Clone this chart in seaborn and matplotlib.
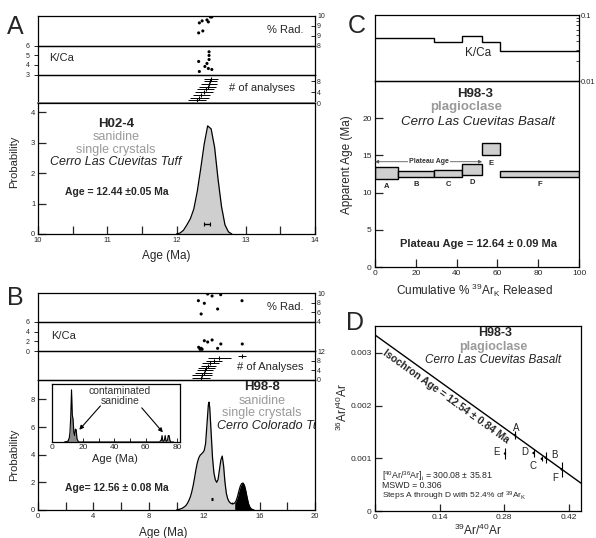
import numpy as np
import pandas as pd
import matplotlib
matplotlib.use("Agg")
import matplotlib.pyplot as plt
import matplotlib.ticker as mticker
import seaborn as sns

# ---------------- data ----------------
# Panel A  (H02-4)
a_curve_age = [12.00, 12.05, 12.10, 12.15, 12.20, 12.25, 12.30, 12.35, 12.40, 12.45,
               12.50, 12.55, 12.60, 12.65, 12.70, 12.75, 12.80]
a_curve_prob = [0.0, 0.03, 0.12, 0.3, 0.5, 0.82, 1.4, 2.15, 2.95, 3.55,
                3.45, 2.85, 1.8, 0.9, 0.3, 0.07, 0.0]
a_age, a_age_err = 12.44, 0.05
a_rad_age = [12.33, 12.37, 12.44, 12.46, 12.49, 12.51, 12.32, 12.38]
a_rad_val = [96.5, 97.5, 98.0, 97.0, 99.5, 99.5, 91.4, 92.4]
a_kca_age = [12.47, 12.47, 12.47, 12.32, 12.44, 12.41, 12.46, 12.51, 12.33]
a_kca_val = [5.35, 4.97, 4.55, 4.35, 4.14, 3.83, 3.62, 3.52, 3.31]
a_n_age = [12.29, 12.33, 12.36, 12.40, 12.42, 12.45, 12.47, 12.49, 12.50]
a_n_err = [0.13, 0.14, 0.12, 0.13, 0.12, 0.12, 0.11, 0.10, 0.10]

# Panel B  (H98-8)
b_curve_age = [10.0, 10.1, 10.2, 10.3, 10.4, 10.5, 10.6, 10.7, 10.8, 10.9,
               11.0, 11.1, 11.2, 11.3, 11.4, 11.5, 11.6, 11.7, 11.8, 11.9,
               12.0, 12.1, 12.2, 12.3, 12.35, 12.4, 12.5, 12.6, 12.7, 12.8, 12.9,
               13.0, 13.1, 13.2, 13.3, 13.4, 13.5, 13.6, 13.7, 13.8, 13.9,
               14.0, 14.1, 14.2, 14.3, 14.4, 14.5, 14.6, 14.7, 14.8, 14.9,
               15.0, 15.1, 15.2, 15.3, 15.4, 15.5, 15.6]
b_curve_prob = [0, 0.02, 0.05, 0.08, 0.12, 0.18, 0.25, 0.35, 0.5, 0.7,
                0.95, 1.3, 1.75, 2.3, 2.9, 3.4, 3.75, 3.95, 4.05, 4.15,
                4.3, 4.8, 6.2, 7.6, 7.8, 7.4, 5.6, 3.8, 2.7, 2.2, 2.0,
                2.2, 2.9, 3.6, 3.9, 3.2, 2.0, 1.2, 0.8, 0.6, 0.5,
                0.45, 0.45, 0.5, 0.65, 0.95, 1.35, 1.7, 1.9, 1.95, 1.8,
                1.4, 0.9, 0.45, 0.2, 0.08, 0.03, 0.0]
b_excluded_from = 14.2
b_age, b_age_err = 12.56, 0.08
b_rad_age = [11.58, 12.01, 12.25, 12.57, 13.19, 14.73, 11.78, 12.97]
b_rad_val = [84.1, 78.7, 97.9, 93.8, 96.5, 84.1, 56.6, 66.9]
b_kca_age = [12.01, 12.25, 12.57, 11.60, 11.78, 11.70, 11.85, 12.97, 13.2, 14.75]
b_kca_val = [2.13, 1.86, 2.28, 0.77, 0.55, 0.35, 0.35, 0.55, 1.45, 1.45]
b_n_age = [11.8, 11.85, 11.95, 12.05, 12.15, 12.3, 12.45, 12.7, 13.1, 14.75]
b_n_err = [0.65, 0.7, 0.6, 0.6, 0.6, 0.55, 0.6, 0.6, 0.8, 0.3]
# inset (full age range)
inset_age = [8, 10, 11, 11.5, 12, 12.5, 13, 13.5, 14, 14.5, 15, 15.5, 16, 17,
             69, 69.5, 70, 70.5, 71, 71.5, 72, 72.5, 73, 73.5, 74, 74.5, 75, 75.5, 76, 78]
inset_prob = [0, 0.1, 0.5, 1.5, 4.0, 8.1, 4.2, 3.5, 1.5, 1.0, 2.0, 1.9, 0.5, 0,
              0, 0.2, 0.3, 1.0, 0.2, 0.1, 0.3, 1.0, 0.2, 0.1, 0.3, 1.0, 1.0, 0.3, 0, 0]

# Panel C  (H98-3 step heating)
c_steps = ['A', 'B', 'C', 'D', 'E', 'F']
c_cum_lo = [0, 11.3, 28.9, 42.8, 52.5, 61.4]
c_cum_hi = [11.3, 28.9, 42.8, 52.5, 61.4, 100]
c_age = [12.6, 12.52, 12.61, 13.11, 15.8, 12.5]
c_err = [0.8, 0.45, 0.45, 0.72, 0.8, 0.34]
c_kca = [0.0444, 0.0444, 0.0394, 0.048, 0.0394, 0.0285]
c_plateau_steps = 4   # A through D
c_plateau_y = 14.15

# Panel D  (isochron)
d_steps = ['A', 'B', 'C', 'D', 'E', 'F']
d_x = [0.304, 0.3705, 0.362, 0.344, 0.282, 0.405]
d_y = [0.00144, 0.00101, 0.00099, 0.00110, 0.00109, 0.00079]
d_yerr = [0.00007, 0.0001, 0.00005, 0.00007, 0.0001, 0.00014]
d_intercept = 0.00334
d_slope = -0.00629

# ---------------- style ----------------
sns.set_style("white")
plt.rcParams['font.family'] = ['Liberation Sans', 'DejaVu Sans']
plt.rcParams['mathtext.fontset'] = 'custom'
plt.rcParams['mathtext.rm'] = 'Liberation Sans'
plt.rcParams['mathtext.it'] = 'Liberation Sans:italic'
plt.rcParams['mathtext.bf'] = 'Liberation Sans:bold'
plt.rcParams['axes.linewidth'] = 0.9
plt.rcParams['axes.edgecolor'] = 'black'

W, H = 596, 538
fig = plt.figure(figsize=(W / 100, H / 100), dpi=100)
GRAY = '#9a9a9a'
FILL = '#cfcfcf'


def add_ax(x0, y0, x1, y1):
    ax = fig.add_axes([x0 / W, 1 - y1 / H, (x1 - x0) / W, (y1 - y0) / H])
    ax.set_facecolor('none')
    for s in ax.spines.values():
        s.set_color('black')
        s.set_linewidth(0.9)
    return ax


def ftext(x, y, s, **kw):
    kw.setdefault('ha', 'center')
    kw.setdefault('va', 'center')
    return fig.text(x / W, 1 - y / H, s, **kw)


def strip_base(ax, xlim, ylim):
    ax.set_xlim(xlim)
    ax.set_ylim(ylim)
    ax.set_xticks([])
    ax.tick_params(axis='y', which='both', left=False, right=False,
                   labelleft=False, labelright=False)


def right_ticks(ax, vals, labels):
    ax.set_yticks(vals)
    ax.set_yticklabels(labels)
    ax.tick_params(axis='y', which='major', right=True, labelright=True, left=False,
                   labelleft=False, direction='in', length=3, width=0.7,
                   labelsize=5, pad=1.5)


def left_ticks(ax, vals, labels):
    ax.set_yticks(vals)
    ax.set_yticklabels(labels)
    ax.tick_params(axis='y', which='major', left=True, labelleft=True, right=False,
                   labelright=False, direction='out', length=3, width=0.7,
                   labelsize=5, pad=3)


def dots(ax, x, y):
    sns.scatterplot(x=x, y=y, ax=ax, color='black', s=5, edgecolor='none', legend=False)


def nbars(ax, ages, errs):
    idx = np.arange(1, len(ages) + 1)
    ax.errorbar(ages, idx, xerr=errs, fmt='none', ecolor='black', elinewidth=0.7, capsize=0)
    ax.plot(ages, idx, ls='none', marker='|', ms=3, mew=0.8, color='black')


# ================= Panel A =================
AX0, AX1 = 38, 315
axAr = add_ax(AX0, 16, AX1, 45.5)
strip_base(axAr, (10, 14), (85, 100))
right_ticks(axAr, [100, 95, 90, 85], ['10', '9', '9', '8'])
dots(axAr, a_rad_age, a_rad_val)

axAk = add_ax(AX0, 45.5, AX1, 74.5)
strip_base(axAk, (10, 14), (3, 6))
left_ticks(axAk, [3, 4, 5, 6], ['3', '4', '5', '6'])
dots(axAk, a_kca_age, a_kca_val)

axAn = add_ax(AX0, 74.5, AX1, 103)
strip_base(axAn, (10, 14), (0, 10.5))
right_ticks(axAn, [0, 4, 8], ['0', '4', '8'])
nbars(axAn, a_n_age, a_n_err)
axAn.spines['bottom'].set_color('#888888')
axAn.spines['bottom'].set_linewidth(1.4)

axA = add_ax(AX0, 103, AX1, 234)
axA.fill_between(a_curve_age, a_curve_prob, color=FILL, lw=0)
sns.lineplot(x=a_curve_age, y=a_curve_prob, ax=axA, color='black', lw=0.9, sort=False)
axA.errorbar([a_age], [0.33], xerr=[a_age_err], fmt='none', ecolor='black',
             elinewidth=1.0, capsize=1.5, capthick=0.8)
axA.set_xlim(10, 14)
axA.set_ylim(0, 4.3)
axA.set_xticks([10, 11, 12, 13, 14])
axA.set_xticks(np.arange(10, 14.01, 0.5), minor=True)
axA.set_yticks([0, 1, 2, 3, 4])
axA.tick_params(which='both', direction='in', length=6, width=0.9, labelsize=5.5, pad=2,
                bottom=True, left=True)
axA.set_xlabel('')
axA.set_ylabel('')

ftext(15, 27, 'A', size=18)
ftext(285, 30, '% Rad.', size=8)
ftext(62, 58, 'K/Ca', size=8)
ftext(262, 88, '# of analyses', size=8)
ftext(14, 162, 'Probability', size=8, rotation=90)
ftext(166, 256, 'Age (Ma)', size=8.5)
ftext(116, 124, 'H02-4', size=9.5, weight='bold')
ftext(116, 137, 'sanidine', size=9, color=GRAY)
ftext(116, 150, 'single crystals', size=9, color=GRAY)
ftext(116, 162, 'Cerro Las Cuevitas Tuff', size=9, style='italic', color='#222222')
ftext(65, 192, 'Age = 12.44 \u00b10.05 Ma', size=7.5, weight='bold', ha='left')

# ================= Panel B =================
axBr = add_ax(AX0, 293, AX1, 322)
strip_base(axBr, (0, 20), (40, 100))
right_ticks(axBr, [100, 80, 60, 40], ['10', '8', '6', '4'])
dots(axBr, b_rad_age, b_rad_val)

axBk = add_ax(AX0, 322, AX1, 351)
strip_base(axBk, (0, 20), (0, 6))
left_ticks(axBk, [0, 2, 4, 6], ['0', '2', '4', '6'])
dots(axBk, b_kca_age, b_kca_val)

axBn = add_ax(AX0, 351, AX1, 380)
strip_base(axBn, (0, 20), (0, 12))
right_ticks(axBn, [0, 4, 8, 12], ['0', '4', '8', '12'])
nbars(axBn, b_n_age, b_n_err)

axB = add_ax(AX0, 380, AX1, 510)
bx = np.array(b_curve_age)
by = np.array(b_curve_prob)
axB.fill_between(bx, by, where=bx <= b_excluded_from + 1e-9, color=FILL, lw=0)
axB.fill_between(bx, by, where=bx >= b_excluded_from - 1e-9, color='black', lw=0)
sns.lineplot(x=b_curve_age, y=b_curve_prob, ax=axB, color='black', lw=0.9, sort=False)
axB.errorbar([b_age], [0.8], xerr=[b_age_err], fmt='none', ecolor='black',
             elinewidth=2.2, capsize=0)
axB.set_xlim(0, 20)
axB.set_ylim(0, 9.4)
axB.set_xticks([0, 4, 8, 12, 16, 20])
axB.set_xticks(np.arange(0, 20.1, 2), minor=True)
axB.set_yticks([0, 2, 4, 6, 8])
axB.tick_params(which='both', direction='in', length=6, width=0.9, labelsize=5.5, pad=2,
                bottom=True, left=True)
axB.set_xlabel('')
axB.set_ylabel('')
axB.text(0.845, 0.646, 'Cerro Colorado Tuff', transform=axB.transAxes, ha='center',
         va='center', size=9, style='italic', color='#222222', clip_on=True)
axB.text(0.809, 0.746, 'single crystals', transform=axB.transAxes, ha='center',
         va='center', size=9, color=GRAY, clip_on=True)

# inset
axI = add_ax(52, 384, 180, 442)
axI.fill_between(inset_age, inset_prob, color='#8a8a8a', lw=0)
sns.lineplot(x=inset_age, y=inset_prob, ax=axI, color='black', lw=0.8, sort=False)
axI.set_xlim(0, 82)
axI.set_ylim(0, 9)
axI.set_xticks([0, 20, 40, 60, 80])
axI.set_xticks(np.arange(0, 81, 10), minor=True)
axI.set_yticks([])
axI.tick_params(axis='x', which='both', direction='in', length=3, width=0.7,
                labelsize=6, pad=1.5, bottom=True)
axI.set_xlabel('')
axI.set_ylabel('')
axI.annotate('', xy=(17.5, 1.9), xytext=(31, 5.6),
             arrowprops=dict(arrowstyle='-|>', lw=0.8, color='black', mutation_scale=6,
                             shrinkA=0, shrinkB=0))
axI.annotate('', xy=(71, 1.5), xytext=(57.5, 5.3),
             arrowprops=dict(arrowstyle='-|>', lw=0.8, color='black', mutation_scale=6,
                             shrinkA=0, shrinkB=0))
ftext(120, 391, 'contaminated', size=7.5, color='#333333')
ftext(120, 401, 'sanidine', size=7.5, color='#333333')
ftext(115, 459, 'Age (Ma)', size=8)

ftext(15, 298, 'B', size=18)
ftext(285, 307, '% Rad.', size=8)
ftext(64, 336, 'K/Ca', size=8)
ftext(270, 367, '# of Analyses', size=8)
ftext(14, 455, 'Probability', size=8, rotation=90)
ftext(163, 533, 'Age (Ma)', size=8.5)
ftext(262, 387, 'H98-8', size=9.5, weight='bold')
ftext(262, 401, 'sanidine', size=9, color=GRAY)
ftext(65, 488, 'Age= 12.56 \u00b1 0.08 Ma', size=7.5, weight='bold', ha='left')

# ================= Panel C =================
CX0, CX1 = 375, 579
axCk = add_ax(CX0, 15, CX1, 81)
axCk.stairs(c_kca, [c_cum_lo[0]] + c_cum_hi, color='black', lw=1.0, baseline=None)
axCk.set_xlim(0, 100)
axCk.set_yscale('log')
axCk.set_ylim(0.01, 0.1)
axCk.set_xticks([])
axCk.yaxis.tick_right()
axCk.yaxis.set_major_locator(mticker.FixedLocator([0.01, 0.1]))
axCk.yaxis.set_major_formatter(mticker.FixedFormatter(['0.01', '0.1']))
axCk.yaxis.set_minor_locator(mticker.LogLocator(base=10, subs=np.arange(2, 10)))
axCk.yaxis.set_minor_formatter(mticker.NullFormatter())
axCk.tick_params(axis='y', which='major', direction='in', length=4, width=0.7,
                 labelsize=5.5, pad=1.5, right=True, left=False)
axCk.tick_params(axis='y', which='minor', direction='in', length=2, width=0.6,
                 right=True, left=False)
ftext(478, 53, 'K/Ca', size=8.5)

axC = add_ax(CX0, 81, CX1, 267)
c_bottom = [a - e for a, e in zip(c_age, c_err)]
c_height = [2 * e for e in c_err]
c_width = [h - l for l, h in zip(c_cum_lo, c_cum_hi)]
axC.bar(c_cum_lo, c_height, width=c_width, bottom=c_bottom, align='edge',
        color=FILL, edgecolor='black', linewidth=1.0)
for s, l, h, a, e in zip(c_steps, c_cum_lo, c_cum_hi, c_age, c_err):
    axC.annotate(s, xy=((l + h) / 2, a - e), xytext=(0, -3), textcoords='offset points',
                 ha='center', va='top', size=5.5, weight='bold')
axC.annotate('', xy=(0, c_plateau_y), xytext=(c_cum_hi[c_plateau_steps - 1], c_plateau_y),
             arrowprops=dict(arrowstyle='<|-|>', lw=0.6, color='#555555', mutation_scale=5,
                             shrinkA=0, shrinkB=0))
axC.text(c_cum_hi[c_plateau_steps - 1] / 2, c_plateau_y, 'Plateau Age', ha='center',
         va='center', size=5, weight='bold', color='#333333',
         bbox=dict(boxstyle='square,pad=0.15', fc='white', ec='none'))
axC.set_xlim(0, 100)
axC.set_ylim(0, 25)
axC.set_xticks([0, 20, 40, 60, 80, 100])
axC.set_yticks([0, 5, 10, 15, 20])
axC.tick_params(which='both', direction='in', length=6, width=0.9, labelsize=6, pad=2.5,
                bottom=True, left=True)
axC.set_xlabel('')
axC.set_ylabel('')

ftext(357, 26, 'C', size=18)
ftext(475, 94, 'H98-3', size=9.5, weight='bold')
ftext(466, 107, 'plagioclase', size=9.5, color=GRAY, weight='bold')
ftext(478, 122, 'Cerro Las Cuevitas Basalt', size=9.5, style='italic', color='#222222')
ftext(478, 244, 'Plateau Age = 12.64 \u00b1 0.09 Ma', size=8, weight='bold')
ftext(347, 165, 'Apparent Age (Ma)', size=8.5, rotation=90)
ftext(475, 290, r'Cumulative % $^{39}$Ar$_{\mathrm{K}}$ Released', size=8.5)

# ================= Panel D =================
axD = add_ax(375, 326, 581, 511)
axD.axline((0, d_intercept), slope=d_slope, color='black', lw=1.0)
axD.errorbar(d_x, d_y, yerr=d_yerr, fmt='none', ecolor='black', elinewidth=0.8, capsize=0)
sns.scatterplot(x=d_x, y=d_y, ax=axD, color='black', s=3, edgecolor='none', legend=False)
d_off = {'A': (1, 5), 'B': (6, 2), 'C': (-6, -5), 'D': (-6, 1), 'E': (-6, 1), 'F': (-5, -6)}
for s, x, y in zip(d_steps, d_x, d_y):
    axD.annotate(s, xy=(x, y), xytext=d_off[s], textcoords='offset points',
                 ha='center', va='center', size=7, color='#222222')
axD.set_xlim(0, 0.447)
axD.set_ylim(0, 0.00351)
axD.set_xticks([0, 0.14, 0.28, 0.42])
axD.set_xticklabels(['0', '0.14', '0.28', '0.42'])
axD.set_yticks([0, 0.001, 0.002, 0.003])
axD.set_yticklabels(['0', '0.001', '0.002', '0.003'])
axD.tick_params(which='both', direction='in', length=5, width=0.9, labelsize=6, pad=2.5,
                bottom=True, left=True)
axD.set_xlabel('')
axD.set_ylabel('')
iso_x = 0.155
axD.text(iso_x, d_intercept + d_slope * iso_x - 0.0002, 'Isochron Age = 12.54 \u00b1 0.84 Ma',
         ha='center', va='center', rotation=-35.7, rotation_mode='anchor',
         size=7.5, weight='bold')

ftext(355, 323, 'D', size=18)
ftext(495, 333, 'H98-3', size=9, weight='bold')
ftext(493, 347, 'plagioclase', size=9, color=GRAY, weight='bold')
ftext(493, 360, 'Cerro Las Cuevitas Basalt', size=8.5, style='italic', color='#222222')
ftext(382, 476, r'[$^{40}$Ar/$^{36}$Ar]$_{\mathrm{i}}$ = 300.08 $\pm$ 35.81', size=6.3, ha='left')
ftext(382, 486, 'MSWD = 0.306', size=6.3, ha='left')
ftext(382, 496, r'Steps A through D with 52.4% of $^{39}$Ar$_{\mathrm{K}}$', size=6.0, ha='left')
ftext(342, 407, r'$^{36}$Ar/$^{40}$Ar', size=8.5, rotation=90)
ftext(478, 530, r'$^{39}$Ar/$^{40}$Ar', size=8.5)

fig.savefig('out.png', dpi=100)
